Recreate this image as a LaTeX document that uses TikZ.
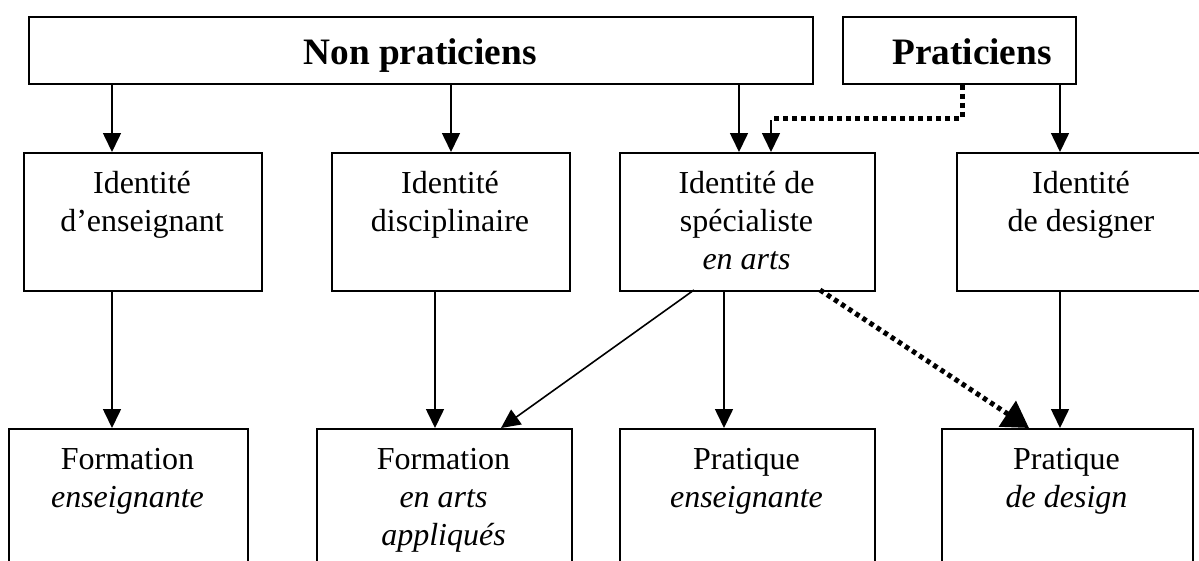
\documentclass[tikz,border=0pt]{standalone}
\usepackage{fontspec}
\setmainfont{Liberation Serif}
\usetikzlibrary{arrows.meta,calc}
\tikzset{
  boxnode/.style={draw, line width=1.8pt, minimum width=#1, inner sep=0pt, anchor=north west},
  lbl/.style={align=center, inner sep=0pt, anchor=north, font=\fontsize{32}{38}\selectfont},
  head/.style={inner sep=0pt, anchor=base, font=\fontsize{37.3}{44}\selectfont\bfseries},
  arr/.style={line width=1.6pt, -{Triangle[length=19pt,width=18pt]}},
  dotarr/.style={line width=5pt, dash pattern=on 4.5pt off 4pt, -{Triangle[length=26pt,width=30pt]}},
  dotln/.style={line width=5pt, dash pattern=on 5.5pt off 3.5pt}
}
\begin{document}
\begin{tikzpicture}[x=1pt,y=-1pt]
\clip (0,0) rectangle (1199,560);
\fill[white] (0,0) rectangle (1199,560);
% top row
\node[boxnode=784pt, minimum height=67pt] (np) at (28,16) {};
\node[boxnode=233pt, minimum height=67pt] (pr) at (842,16) {};
\node[head] (npt) at (420,64.5) {Non praticiens};
\node[head] (prt) at (972,64.5) {Praticiens};
% middle row
\node[boxnode=238pt, minimum height=138pt] (m1) at (23,152) {};
\node[boxnode=238pt, minimum height=138pt] (m2) at (331,152) {};
\node[boxnode=255pt, minimum height=138pt] (m3) at (619,152) {};
\node[boxnode=250pt, minimum height=138pt] (m4) at (956,152) {};
\node[lbl] (m1t) at (142,166.4) {\strut Identité\\d’enseignant};
\node[lbl] (m2t) at (450,166.4) {\strut Identité\\disciplinaire};
\node[lbl] (m3t) at (746.5,166.4) {\strut Identité de\\spécialiste\\\textit{en arts}};
\node[lbl] (m4t) at (1081,166.4) {\strut Identité\\de designer};
% bottom row
\node[boxnode=239pt, minimum height=200pt] (b1) at (8,428) {};
\node[boxnode=255pt, minimum height=200pt] (b2) at (316,428) {};
\node[boxnode=255pt, minimum height=200pt] (b3) at (619,428) {};
\node[boxnode=251pt, minimum height=200pt] (b4) at (941,428) {};
\node[lbl] (b1t) at (127.5,442.4) {\strut Formation\\\textit{enseignante}};
\node[lbl] (b2t) at (443.5,442.4) {\strut Formation\\\textit{en arts}\\\textit{appliqués}};
\node[lbl] (b3t) at (746.5,442.4) {\strut Pratique\\\textit{enseignante}};
\node[lbl] (b4t) at (1066.5,442.4) {\strut Pratique\\\textit{de design}};
% x positions of connectors
\coordinate (xa) at (112,0);
\coordinate (xb) at (451,0);
\coordinate (xc) at (739,0);
\coordinate (xd) at (1060,0);
\coordinate (xe) at (435,0);
\coordinate (xf) at (724,0);
\coordinate (xg) at (962,0);
\coordinate (xh) at (771,0);
\coordinate (bend1) at (962,118);
\coordinate (bend2) at (771,118);
\coordinate (d1s) at (694,290);
\coordinate (d1e) at (501,428);
\coordinate (d2s) at (820,290);
\coordinate (d2e) at (1029,428);
% connectors top -> middle
\draw[arr] (np.south -| xa) -- (m1.north -| xa);
\draw[arr] (np.south -| xb) -- (m2.north -| xb);
\draw[arr] (np.south -| xc) -- (m3.north -| xc);
\draw[arr] (pr.south -| xd) -- (m4.north -| xd);
\draw[dotln] (pr.south -| xg) -- (bend1) -- (bend2);
\draw[arr] ([yshift=-2pt]bend2) -- (m3.north -| xh);
% middle -> bottom
\draw[arr] (m1.south -| xa) -- (b1.north -| xa);
\draw[arr] (m2.south -| xe) -- (b2.north -| xe);
\draw[arr] (m3.south -| xf) -- (b3.north -| xf);
\draw[arr] (m4.south -| xd) -- (b4.north -| xd);
\draw[arr] (d1s) -- (d1e);
\draw[dotarr] (d2s) -- (d2e);
\end{tikzpicture}
\end{document}
